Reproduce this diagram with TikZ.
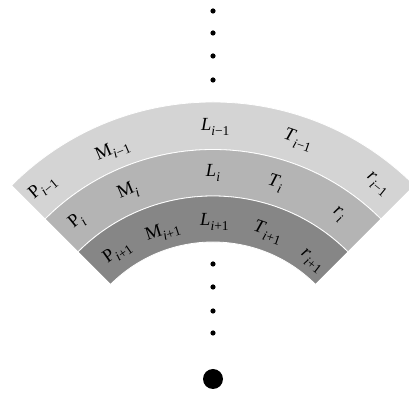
\documentclass[tikz,border=0pt]{standalone}
\usepackage{fontspec}
\setmainfont{Liberation Serif}
\newcommand\lbl[2]{#1\raisebox{-0.28em}{\fontsize{13.5}{15}\selectfont #2}}
\newcommand\im{\textit{i}}
\definecolor{bandA}{RGB}{212,212,212}
\definecolor{bandB}{RGB}{180,180,180}
\definecolor{bandC}{RGB}{134,134,134}
\begin{document}
\begin{tikzpicture}[x=1pt,y=1pt,
  lab/.style={inner sep=0pt,font=\fontsize{18.5}{20}\selectfont},
  smalldot/.style={circle,fill=black,inner sep=0pt,minimum size=5.2pt},
  bigdot/.style={circle,fill=black,inner sep=0pt,minimum size=20pt},
  bandedge/.style={draw=white,line width=0.8pt}]
\useasboundingbox (-213,-8) rectangle (196,387);
\clip (-213,-8) rectangle (196,387);
% bands
\path[fill=bandA,bandedge] (45:237.5) arc[start angle=45,end angle=135,radius=237.5]
  -- (135:285) arc[start angle=135,end angle=45,radius=285] -- cycle;
\path[fill=bandB,bandedge] (45:191) arc[start angle=45,end angle=135,radius=191]
  -- (135:237.5) arc[start angle=135,end angle=45,radius=237.5] -- cycle;
\path[fill=bandC,bandedge] (45:145) arc[start angle=45,end angle=135,radius=145]
  -- (135:191) arc[start angle=135,end angle=45,radius=191] -- cycle;
% row 1
\node[lab,rotate=40] (p1) at (130.5:262) {\lbl{P}{\im−1}};
\node[lab,rotate=23] (m1) at (113:257) {\lbl{M}{\im−1}};
\node[lab,rotate=0] (l1) at (89.5:260) {\lbl{\textit{L}}{\im−1}};
\node[lab,rotate=-19] (t1) at (71:261) {\lbl{\textit{T}}{\im−1}};
\node[lab,rotate=-39] (r1) at (51:261) {\lbl{\textit{r}}{\im−1}};
% row 2
\node[lab,rotate=39] (p2) at (129.5:214) {\lbl{P}{\im}};
\node[lab,rotate=23] (m2) at (113.5:213) {\lbl{M}{\im}};
\node[lab,rotate=0] (l2) at (90:214) {\lbl{\textit{L}}{\im}};
\node[lab,rotate=-17] (t2) at (73:213) {\lbl{\textit{T}}{\im}};
\node[lab,rotate=-36] (r2) at (54:213) {\lbl{\textit{r}}{\im}};
% row 3
\node[lab,rotate=35] (p3) at (125.5:165) {\lbl{P}{\im+1}};
\node[lab,rotate=18] (m3) at (108:163) {\lbl{M}{\im+1}};
\node[lab,rotate=0] (l3) at (89.5:165) {\lbl{\textit{L}}{\im+1}};
\node[lab,rotate=-19] (t3) at (70.5:164) {\lbl{\textit{T}}{\im+1}};
\node[lab,rotate=-38] (r3) at (52:160) {\lbl{\textit{r}}{\im+1}};
% dots
\node[smalldot] (a1) at (0,376) {};
\node[smalldot] (a2) at (0,354) {};
\node[smalldot] (a3) at (0,331) {};
\node[smalldot] (a4) at (0,307) {};
\node[smalldot] (b1) at (0,123) {};
\node[smalldot] (b2) at (0,100) {};
\node[smalldot] (b3) at (0,76) {};
\node[smalldot] (b4) at (0,54) {};
\node[bigdot] (c) at (0,8) {};
\end{tikzpicture}
\end{document}
